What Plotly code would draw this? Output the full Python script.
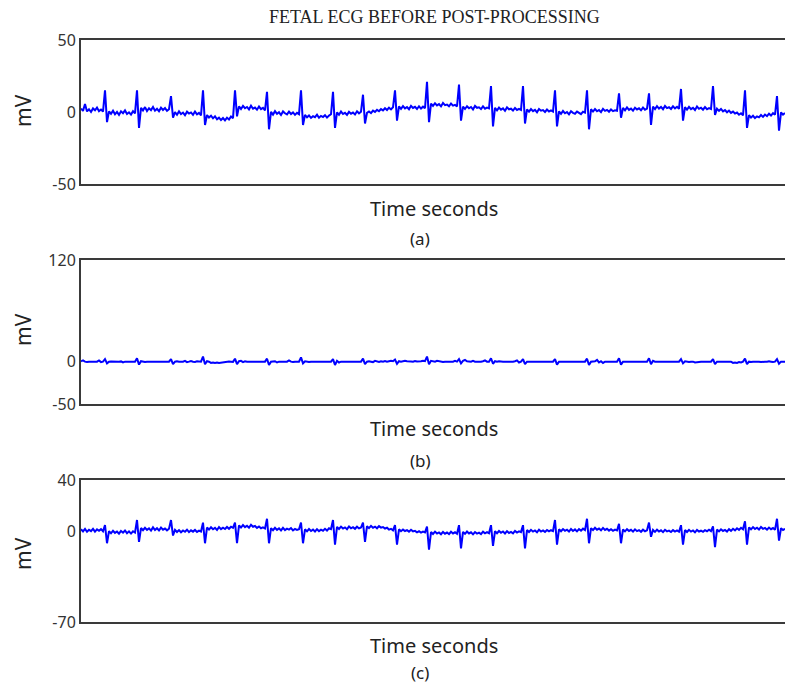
import numpy as np
import plotly.graph_objects as go

# ---------------- data (mV), one sample every 0.02 s ----------------
DT = 0.02

ecg_a = [
    2.4, 0.8, 5.5, 0.4, 1.9, 0.0, 2.5, 1.2, 3.1, 0.6, 1.7, 0.3,
    15.0, -7.0, 0.4, -1.2, 0.9, -1.6, 0.1, -2.0, 0.5, -0.8, 1.1, -1.4, -0.2, -1.8, 0.6, -1.0,
    15.0, -11.0, 2.9, 1.1, 3.4, 0.7, 2.6, 1.3, 3.5, 0.9, 2.2, 0.5, 3.0, 1.4, 2.7, 0.8, 1.9,
    11.0, -4.0, -0.1, -1.9, 0.4, -1.5, -0.4, -2.2, 0.2, -1.1, -0.3, -2.0, 0.3, -1.6, -0.6, -2.3,
    15.0, -9.0, -2.1, -3.8, -2.6, -4.4, -3.0, -5.1, -3.9, -5.6, -4.2, -5.8, -4.0, -5.2, -3.1, -4.3,
    15.0, -3.0, 3.9, 2.1, 4.2, 2.6, 3.5, 1.8, 4.4, 2.3, 3.1, 1.6, 3.8, 2.0, 2.9, 1.2,
    14.0, -12.0, 0.1, -1.8, 0.6, -1.3, -0.2, -2.1, 0.4, -0.9, -1.7, 0.2, -1.4, -0.3, -2.0, -0.6, -1.5,
    15.0, -9.0, -2.0, -3.7, -2.4, -4.1, -2.9, -3.6, -1.9, -4.0, -2.7, -3.5, -2.2, -3.9, -2.5, -1.6,
    14.0, -11.0, -0.2, -1.9, 0.3, -1.4, -0.5, -2.0, 0.1, -1.2, -0.4, -1.7, 0.5, -0.9, 0.2,
    12.0, -8.0, -0.6, 0.4, -0.8, 1.0, 0.1, 1.5, 0.5, 2.0, 1.1, 2.6, 1.4, 3.0, 1.8, 3.3,
    15.0, -6.0, 3.9, 2.2, 4.1, 2.5, 3.4, 1.9, 4.3, 2.8, 3.6, 2.1, 4.0, 2.4, 3.7, 2.6,
    21.0, -7.0, 5.8, 4.2, 6.1, 4.6, 5.5, 3.9, 6.3, 4.8, 5.2, 4.0, 5.9, 4.4, 5.0, 3.8,
    19.0, -6.0, 3.8, 2.1, 4.0, 2.6, 3.5, 1.8, 4.2, 2.9, 3.3, 2.0, 3.9, 2.3, 3.1, 2.5,
    18.0, -10.0, 2.9, 1.2, 3.1, 1.6, 2.5, 0.8, 3.2, 1.9, 2.3, 1.0, 2.8, 1.4, 2.2, 1.5,
    18.0, -8.0, 1.8, 0.2, 2.0, 0.6, 1.5, -0.2, 2.1, 0.9, 1.3, 0.0, 1.7, 0.4, 1.1, 0.3,
    15.0, -10.0, 0.4, -1.3, 0.7, -0.9, 0.0, -1.6, 0.5, -0.6, -1.2, 0.3, -0.8, -1.5, 0.2, -0.4,
    15.0, -12.0, 1.9, 0.3, 2.0, 0.5, 1.4, -0.1, 2.2, 0.8, 1.5, 0.2, 1.8, 0.6, 1.2, 0.9,
    13.0, -4.0, 2.8, 1.1, 3.2, 1.5, 2.4, 0.9, 3.0, 1.8, 2.6, 1.2, 3.1, 1.6, 2.3,
    13.0, -9.0, 3.7, 2.0, 4.1, 2.4, 3.5, 1.9, 4.2, 2.7, 3.3, 2.1, 3.9, 2.5, 3.6, 2.2,
    16.0, -6.0, 3.3, 1.7, 3.6, 2.0, 2.9, 1.4, 3.8, 2.2, 3.0, 1.6, 3.4, 1.9, 2.7, 2.1,
    18.0, -2.0, 2.3, 0.8, 2.1, 0.4, 1.3, -0.2, 1.0, -0.6, 0.3, -1.1, -0.4, -1.9, -0.9, -2.3,
    15.0, -11.0, -2.2, -3.9, -2.6, -4.2, -3.0, -3.7, -2.1, -3.4, -1.8, -2.9, -1.2, -2.5, -0.8, -1.9,
    11.0, -13.0, -0.3, -1.8, -0.7,
]

ecg_b = [
    0.5, 1.5, 0.0, -0.5, 0.0, 0.3, 0.0, -0.2, 0.0, 1.5, -0.5, 0.0,
    3.0, -2.0, 0.0, 0.2, 0.0, -0.2, 0.0, 0.0, 0.3, -1.0, 0.0, 0.0, 0.2, 0.0, -0.2, 0.0,
    4.0, -3.5, 0.5, 0.0, -0.3, 0.0, 0.0, 0.2, 0.0, 0.0, -0.2, 0.0, 0.0, 0.0, 0.3, 0.0, 0.0,
    3.0, -3.0, 0.0, 0.5, 0.0, -0.4, 0.0, 1.0, -0.5, 0.0, 0.8, 0.0, -0.3, 0.5, 0.0, 0.0,
    6.0, -3.0, 0.5, 0.0, -1.5, -1.0, -1.5, -1.0, -1.5, -1.2, -1.0, 0.0, 0.0, 0.3, 0.0, -0.3,
    3.5, -3.0, 0.5, 1.0, -0.5, 0.5, 0.0, 0.0, -0.2, 0.0, 0.0, 0.2, 0.0, 0.0, -0.2, 0.0,
    3.5, -4.0, 0.0, 0.0, 0.5, -1.0, 0.0, 0.0, 0.3, 0.0, 0.0, 1.5, 0.0, -0.5, 0.0, 0.0, 0.0,
    5.0, -2.0, 0.5, 0.0, -0.5, 0.0, 0.0, -0.3, 0.0, 0.0, 0.2, 0.0, 0.0, 0.0, -0.2, 0.0,
    3.0, -4.0, 1.0, -1.0, 0.0, 0.0, 0.5, 0.0, 0.0, -0.3, 0.0, 0.0, 0.3, 0.0, 0.0,
    3.5, -3.0, 0.0, 0.5, 0.0, -0.5, 1.0, 0.0, -0.3, 0.5, 0.0, 0.8, 0.0, 0.5, 1.0, 0.5,
    2.5, -2.5, 0.5, 0.0, 0.5, 1.0, 0.5, 0.0, 0.3, 0.0, 0.8, 0.3, 0.0, 0.5, 1.0, 0.5,
    6.0, -3.0, 1.0, 0.5, 0.0, 1.0, 0.5, 0.0, -0.3, 0.0, 0.0, 0.5, 0.0, 0.0, 1.0, 0.0,
    3.0, -2.0, 1.0, 2.0, 0.5, 0.0, 0.0, 1.0, 0.0, 0.0, -0.3, 0.0, 0.5, 1.5, 0.0, 0.0,
    4.0, -2.5, 0.5, 0.0, 0.5, 0.0, 0.0, 0.0, -0.2, 0.0, 0.0, 0.0, 0.5, 1.5, -1.0, 0.0,
    3.0, -3.0, 0.0, 0.0, 0.0, -0.2, 0.0, 0.0, 0.0, 0.0, 0.3, 0.0, 0.0, 0.0, 0.0, 0.0,
    3.0, -3.5, 0.0, 0.0, 0.0, 0.0, 0.0, 0.0, 0.0, 0.0, 0.0, 0.0, 0.0, 0.0, 0.0, 0.0,
    3.5, -4.0, 0.0, 0.0, 0.5, 2.0, -1.0, 0.5, -1.5, 0.0, 0.0, 0.3, 0.0, 0.0, 0.0, 0.0,
    4.0, -3.5, 0.0, 0.0, 0.0, 0.0, 0.5, 0.0, 0.0, 0.0, 0.0, 0.0, 0.3, 0.0, 0.0,
    4.0, -3.0, 1.0, 0.0, 0.0, 0.0, 0.0, 0.0, 0.0, 0.0, 0.0, 0.0, 0.0, 0.0, 0.0, 0.0,
    3.0, -2.0, 0.5, 0.0, -0.5, 0.0, 0.0, -1.0, -0.5, 0.0, 0.0, 0.0, 0.0, 0.0, 0.0, 0.0,
    3.0, -3.0, 0.0, 0.0, 0.0, 0.0, 0.0, 0.0, 0.0, 0.0, -1.5, -1.0, -1.5, -0.5, -1.0, 0.0,
    3.5, -3.0, 0.0, -0.5, 0.0, 0.0, 0.5, 0.0, -0.5, 0.0, 0.0, 0.0, 0.5, 0.0, -0.5, 0.0,
    3.0, -2.5, 0.0, 0.0, 0.0,
]

ecg_c = [
    1.8, 0.2, 2.1, -0.1, 1.5, 0.4, 2.2, 0.0, 1.7, 0.6, 1.9, 0.3,
    5.0, -9.0, 0.4, -1.3, 0.7, -1.0, 0.1, -1.6, 0.5, -0.8, 0.9, -1.2, 0.2, -1.5, 0.3, -0.7,
    9.0, -8.0, 2.8, 1.1, 3.0, 1.4, 2.5, 0.8, 3.3, 1.2, 2.6, 0.9, 3.1, 1.5, 2.4, 1.0, 2.2,
    9.0, -3.0, 1.4, -0.3, 1.2, -0.5, 0.9, -0.1, 1.5, -0.4, 1.0, 0.0, 1.3, -0.2, 0.8, 0.1,
    7.0, -9.0, 3.2, 1.6, 3.4, 1.8, 2.9, 1.3, 3.5, 1.9, 3.0, 2.0, 3.6, 2.2, 3.8, 2.9,
    7.0, -9.0, 4.8, 3.2, 5.1, 3.5, 4.6, 3.0, 5.3, 3.8, 4.4, 2.9, 4.0, 2.6, 3.3, 2.4,
    10.0, -9.0, 2.7, 1.1, 3.0, 1.4, 2.5, 0.9, 2.9, 1.2, 2.3, 1.6, 2.8, 1.0, 2.1, 1.3, 1.8,
    7.0, -9.0, 1.8, 0.2, 2.0, 0.5, 1.6, 0.1, 1.9, 0.4, 1.5, 0.7, 2.2, 0.8, 2.6, 1.9,
    9.0, -10.0, 3.7, 2.1, 3.9, 2.4, 3.3, 1.9, 4.0, 2.6, 3.5, 2.2, 3.8, 2.5, 3.2,
    7.0, -8.0, 4.2, 2.7, 4.5, 3.0, 3.9, 2.6, 4.3, 3.1, 3.6, 2.4, 3.0, 1.6, 2.2, 1.0,
    5.0, -10.0, 1.8, 0.3, 1.6, 0.5, 1.2, 0.0, 1.4, 0.2, 0.6, -0.5, 0.3, -0.8, 0.0, -0.6,
    4.0, -14.0, -0.3, -1.8, 0.0, -1.5, -0.6, -2.0, -0.2, -1.6, -0.7, -1.9, -0.1, -1.4, -0.5, -1.7,
    5.0, -13.0, -0.2, -1.7, 0.1, -1.4, -0.5, -2.1, -0.3, -1.5, -0.8, -1.9, 0.0, -1.3, -0.4, -1.2,
    5.0, -11.0, 0.3, -1.2, 0.5, -0.9, 0.1, -1.4, 0.4, -1.0, -0.2, -1.3, 0.6, -0.7, 0.2, -0.4,
    5.0, -13.0, 1.2, -0.3, 1.4, 0.0, 0.9, -0.5, 1.5, 0.1, 1.0, -0.2, 1.3, 0.2, 1.1, 0.4,
    9.0, -10.0, 1.8, 0.3, 2.0, 0.6, 1.5, 0.1, 2.1, 0.5, 1.7, 0.2, 1.9, 0.8, 2.3, 1.2,
    10.0, -9.0, 2.7, 1.2, 3.0, 1.5, 2.4, 1.0, 2.9, 1.3, 2.2, 0.8, 1.9, 0.6, 1.6, 0.9,
    6.0, -9.0, 1.7, 0.2, 1.9, 0.5, 1.4, 0.0, 1.8, 0.4, 1.2, -0.1, 1.5, 0.3, 1.0,
    7.0, -4.0, 1.3, -0.2, 1.5, 0.1, 1.0, -0.4, 1.4, 0.2, 0.8, -0.3, 1.2, 0.0, 0.9, -0.1,
    5.0, -10.0, 1.2, -0.3, 1.4, 0.0, 0.9, -0.5, 1.3, 0.1, 0.7, -0.2, 1.1, 0.3, 1.5, 0.4,
    4.0, -12.0, 1.6, 0.2, 1.8, 0.5, 1.3, 0.0, 1.9, 0.6, 2.2, 1.0, 2.6, 1.4, 3.0, 1.8,
    8.0, -10.0, 3.3, 1.8, 3.5, 2.0, 3.0, 1.6, 3.6, 2.2, 2.9, 1.5, 3.2, 1.9, 2.8, 1.4,
    10.0, -7.0, 2.6, 1.3, 2.2,
]

y_ranges = [(-50, 50), (-50, 120), (-70, 40)]
y_ticks = [[-50, 0, 50], [-50, 0, 120], [-70, 0, 40]]
y_ticktext = [["-50", "0", "50"], ["-50", "0", "120"], ["-70", "0", "40"]]
panel_labels = ["(a)", "(b)", "(c)"]
title_text = "FETAL ECG BEFORE POST-PROCESSING"
x_title = "Time seconds"
y_title = "mV"

# ---------------- layout helpers ----------------
W, H = 785, 684
ML = 81
def py(px):
    return 1 - px / H
def pxx(px):
    return (px - ML) / (W - ML)

panels = [ecg_a, ecg_b, ecg_c]
boxes = [(40, 184), (260, 404), (480, 622)]
xtitle_y = [208, 428, 645]
label_y = [238, 460, 672]
ytitle_y = [111, 330, 554]

fig = go.Figure()
layout = dict(
    width=W, height=H,
    margin=dict(l=ML, r=0, t=0, b=0, autoexpand=False),
    paper_bgcolor="white", plot_bgcolor="white",
    showlegend=False,
)
annotations = []
sans = "Noto Sans, DejaVu Sans, sans-serif"
tick_font = dict(family=sans, size=16, color="#333333")
for i, vals in enumerate(panels):
    n = len(vals)
    t = np.arange(n) * DT
    ax = "" if i == 0 else str(i + 1)
    fig.add_trace(go.Scatter(
        x=t, y=vals, mode="lines",
        line=dict(color="#0000ff", width=2),
        xaxis="x" + ax, yaxis="y" + ax, hoverinfo="skip",
    ))
    top, bot = boxes[i]
    layout["xaxis" + ax] = dict(
        domain=[0, 1], anchor="y" + ax,
        range=[0, (n - 1) * DT],
        showticklabels=False, ticks="", showgrid=False, zeroline=False,
        showline=True, linecolor="#3a3a3a", linewidth=2, mirror=True,
    )
    layout["yaxis" + ax] = dict(
        domain=[py(bot), py(top)], anchor="x" + ax,
        range=list(y_ranges[i]),
        tickmode="array", tickvals=y_ticks[i], ticktext=y_ticktext[i],
        ticks="", showgrid=False, zeroline=False,
        showline=True, linecolor="#3a3a3a", linewidth=2, mirror=False,
        tickfont=tick_font,
    )
    annotations.append(dict(
        text=x_title, xref="paper", yref="paper",
        x=pxx(434), y=py(xtitle_y[i]), xanchor="center", yanchor="middle",
        showarrow=False, font=dict(family=sans, size=20, color="#222222"),
    ))
    annotations.append(dict(
        text=panel_labels[i], xref="paper", yref="paper",
        x=pxx(420), y=py(label_y[i]), xanchor="center", yanchor="middle",
        showarrow=False, font=dict(family=sans, size=17, color="#222222"),
    ))
    annotations.append(dict(
        text=y_title, xref="paper", yref="paper",
        x=pxx(23), y=py(ytitle_y[i]), xanchor="center", yanchor="middle",
        textangle=-90, showarrow=False,
        font=dict(family=sans, size=21, color="#222222"),
    ))

annotations.append(dict(
    text=title_text, xref="paper", yref="paper",
    x=pxx(434), y=py(17), xanchor="center", yanchor="middle", showarrow=False,
    font=dict(family="Liberation Serif, Times New Roman, serif", size=18, color="#222222"),
))
layout["annotations"] = annotations
fig.update_layout(**layout)
fig.write_html(
    "out.html",
    config={"displayModeBar": False},
    post_script="document.body.style.margin='0';document.body.style.overflow='hidden';",
)
